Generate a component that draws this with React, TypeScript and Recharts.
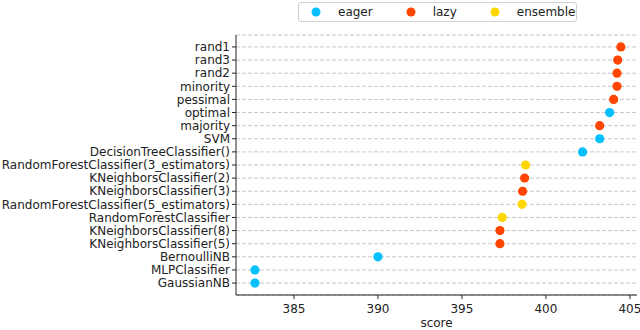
import { ScatterChart, Scatter, CartesianGrid, XAxis, YAxis, Legend } from 'recharts';

const models = [
  'rand1',
  'rand3',
  'rand2',
  'minority',
  'pessimal',
  'optimal',
  'majority',
  'SVM',
  'DecisionTreeClassifier()',
  'RandomForestClassifier(3_estimators)',
  'KNeighborsClassifier(2)',
  'KNeighborsClassifier(3)',
  'RandomForestClassifier(5_estimators)',
  'RandomForestClassifier',
  'KNeighborsClassifier(8)',
  'KNeighborsClassifier(5)',
  'BernoulliNB',
  'MLPClassifier',
  'GaussianNB',
];

const scores = [
  404.46, 404.27, 404.23, 404.23, 404.03, 403.79, 403.2, 403.2, 402.18, 398.79, 398.73, 398.61,
  398.58, 397.4, 397.26, 397.26, 390.0, 382.68, 382.68,
];

const kinds = [
  'lazy', 'lazy', 'lazy', 'lazy', 'lazy', 'eager', 'lazy', 'eager', 'eager', 'ensemble', 'lazy', 'lazy',
  'ensemble', 'ensemble', 'lazy', 'lazy', 'eager', 'eager', 'eager',
];

const groups = ['eager', 'lazy', 'ensemble'];
const xTicks = [385, 390, 395, 400, 405];

const colors: Record<string, string> = {
  eager: '#00bfff',
  lazy: '#ff4500',
  ensemble: '#ffd700',
};

const font = 'DejaVu Sans, sans-serif';

const rowsFor = (g: string) =>
  models
    .map((m, i) => ({ name: m, x: scores[i], y: i, kind: kinds[i] }))
    .filter((r) => r.kind === g);

function LegendBox() {
  return (
    <div
      style={{
        display: 'flex',
        alignItems: 'center',
        border: '1px solid #d0d0d0',
        borderRadius: 3,
        height: 20,
        width: 279,
        boxSizing: 'border-box',
        fontFamily: font,
        fontSize: 12,
        color: '#222',
        background: '#fff',
      }}
    >
      {groups.map((g, i) => (
        <div key={g} style={{ display: 'flex', alignItems: 'center', marginLeft: i === 0 ? 12 : 33 }}>
          <svg width={10} height={10}>
            <circle cx={5} cy={5} r={4.5} fill={colors[g]} />
          </svg>
          <span style={{ marginLeft: 17 }}>{g}</span>
        </div>
      ))}
    </div>
  );
}

export default function App() {
  return (
    <div style={{ position: 'absolute', left: 0, top: 0, width: 640, height: 330, background: '#fff' }}>
      <ScatterChart width={640} height={330} margin={{ top: 15, right: 3, left: 0, bottom: 0 }}>
        <CartesianGrid vertical={false} stroke="#c8c8c8" strokeDasharray="4 2" />
        <XAxis
          type="number"
          dataKey="x"
          domain={[381.55, 405.42]}
          ticks={xTicks}
          allowDataOverflow
          height={35}
          tick={{ fill: '#222', fontSize: 12, fontFamily: font }}
          tickLine={{ stroke: '#222' }}
          tickSize={4}
          tickMargin={5}
          axisLine={{ stroke: '#222' }}
          label={{ value: 'score', position: 'insideBottom', offset: 3, fill: '#222', fontSize: 12, fontFamily: font }}
        />
        <XAxis xAxisId="top" orientation="top" type="number" domain={[0, 1]} height={0} tick={false} tickLine={false} axisLine={{ stroke: '#222' }} />
        <YAxis
          type="number"
          dataKey="y"
          domain={[-0.91, 18.91]}
          reversed
          ticks={models.map((_, i) => i)}
          interval={0}
          tickFormatter={(v: number) => models[v]}
          width={236}
          tick={{ fill: '#222', fontSize: 12, fontFamily: font }}
          tickLine={{ stroke: '#222' }}
          tickSize={4}
          axisLine={{ stroke: '#222' }}
        />
        <YAxis yAxisId="right" orientation="right" type="number" domain={[0, 1]} width={0} tick={false} tickLine={false} axisLine={{ stroke: '#222' }} />
        <Legend
          verticalAlign="top"
          content={() => <LegendBox />}
          wrapperStyle={{ position: 'absolute', top: 2, left: 298, width: 279 }}
        />
        {groups.map((g) => (
          <Scatter
            key={g}
            name={g}
            data={rowsFor(g)}
            fill={colors[g]}
            shape={(p: any) => <circle cx={p.cx} cy={p.cy} r={4.6} fill={colors[g]} />}
            isAnimationActive={false}
          />
        ))}
      </ScatterChart>
    </div>
  );
}
